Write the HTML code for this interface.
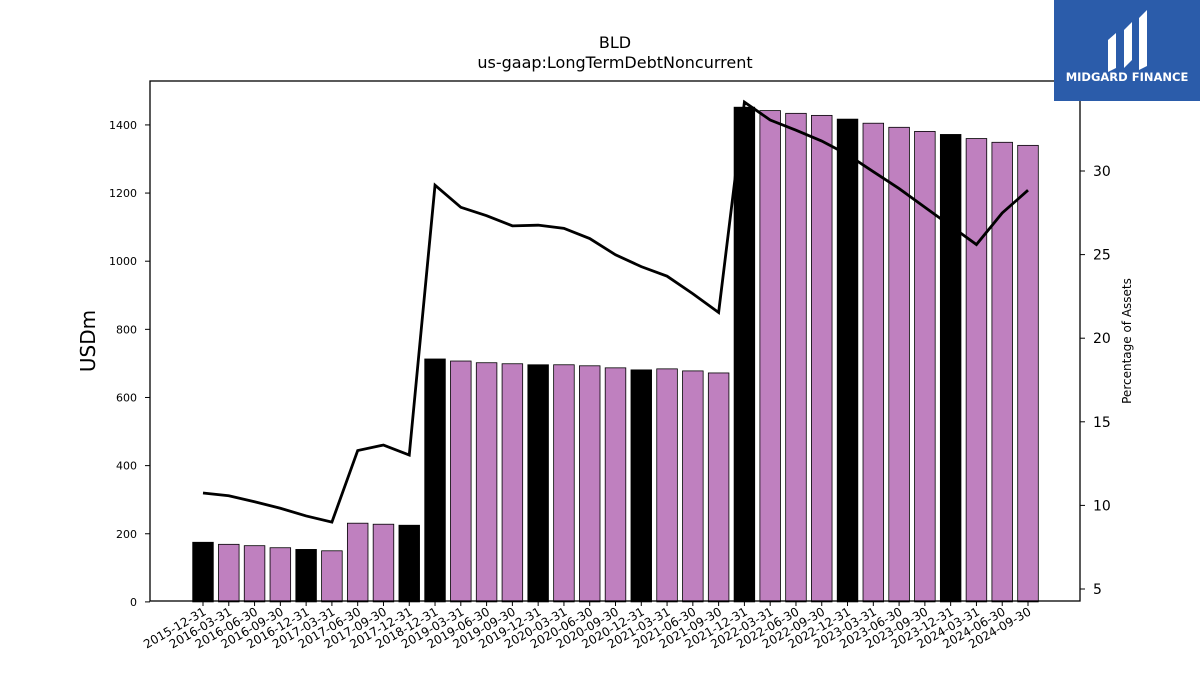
<!DOCTYPE html>
<html><head><meta charset="utf-8"><style>
body{margin:0;background:#fff;width:1200px;height:675px;overflow:hidden;font-family:"Liberation Sans","DejaVu Sans",sans-serif}
</style></head><body>
<svg id="chart" width="1200" height="675" xmlns="http://www.w3.org/2000/svg" font-family="DejaVu Sans, Liberation Sans, sans-serif">
<text x="615" y="48" text-anchor="middle" font-size="16">BLD</text>
<text x="615" y="68" text-anchor="middle" font-size="16">us-gaap:LongTermDebtNoncurrent</text>
<g id="bars"></g><g id="line"></g><g id="axes"></g>
<rect x="150" y="81" width="930" height="520" fill="none" stroke="#000" stroke-width="1.3"/>
<text transform="translate(95,341) rotate(-90)" text-anchor="middle" font-size="20">USDm</text>
<text transform="translate(1131,341) rotate(-90)" text-anchor="middle" font-size="12">Percentage of Assets</text>
<g>
<rect x="1054" y="0" width="146" height="101" fill="#2b5caa"/>
<path d="M1108 40 L1116 33 L1116 68 L1108 72 Z M1124 30 L1132 22 L1132 60 L1124 68 Z M1139 18 L1147 10 L1147 66 L1139 70 Z" fill="#fff"/>
<text x="1127" y="81" text-anchor="middle" font-size="11.5" font-weight="bold" fill="#fff">MIDGARD FINANCE</text>
</g>
</svg>
<script>
const categories=["2015-12-31","2016-03-31","2016-06-30","2016-09-30","2016-12-31","2017-03-31","2017-06-30","2017-09-30","2017-12-31","2018-12-31","2019-03-31","2019-06-30","2019-09-30","2019-12-31","2020-03-31","2020-06-30","2020-09-30","2020-12-31","2021-03-31","2021-06-30","2021-09-30","2021-12-31","2022-03-31","2022-06-30","2022-09-30","2022-12-31","2023-03-31","2023-06-30","2023-09-30","2023-12-31","2024-03-31","2024-06-30","2024-09-30"];
const debtValues=[175,169,165,159,154,150,231,228,225,713,707,702,699,696,696,693,687,681,684,678,672,1452,1442,1434,1428,1417,1405,1393,1381,1372,1360,1349,1340];
const pctValues=[10.74,10.58,10.22,9.83,9.37,9.0,13.28,13.61,13.01,29.15,27.83,27.33,26.72,26.76,26.57,25.96,24.99,24.28,23.71,22.66,21.54,34.12,33.05,32.44,31.79,30.98,29.96,28.95,27.83,26.72,25.6,27.49,28.85];
const yTicks=[0,200,400,600,800,1000,1200,1400];
const y2Ticks=[5,10,15,20,25,30];
const NS="http://www.w3.org/2000/svg";
const xs=i=>203+i*(1028-203)/(categories.length-1);
const y=v=>601.9-v*0.3407;
const y2=v=>589-(v-5)*16.72;
function mk(t,a,p){const e=document.createElementNS(NS,t);for(const k in a)e.setAttribute(k,a[k]);p.appendChild(e);return e;}
const bars=document.getElementById('bars'),axes=document.getElementById('axes'),lg=document.getElementById('line');
categories.forEach((c,i)=>{
  const black=c.endsWith("12-31");
  const r=mk('rect',{x:xs(i)-10.3,y:y(debtValues[i]),width:20.6,height:601.9-y(debtValues[i]),fill:black?'#000':'#bf80bf',stroke:'#000','stroke-width':0.8},bars);
  
  
  mk('line',{x1:xs(i),x2:xs(i),y1:601,y2:606,stroke:'#000'},axes);
  const t=mk('text',{transform:`translate(${xs(i)+4},${614}) rotate(-30)`,'text-anchor':'end','font-size':12},axes);
  t.textContent=c;
  
  
});
yTicks.forEach(v=>{
  mk('line',{x1:145,x2:150,y1:y(v),y2:y(v),stroke:'#000'},axes);
  const t=mk('text',{x:137,y:y(v)+4,'text-anchor':'end','font-size':11},axes);t.textContent=v;
  
  
});
y2Ticks.forEach(v=>{
  mk('line',{x1:1080,x2:1085,y1:y2(v),y2:y2(v),stroke:'#000'},axes);
  const t=mk('text',{x:1093,y:y2(v)+5,'font-size':14},axes);t.textContent=v;
  
  
});
const pl=mk('polyline',{points:pctValues.map((v,i)=>xs(i)+','+y2(v)).join(' '),fill:'none',stroke:'#000','stroke-width':2.8},lg);


</script>
</body></html>
